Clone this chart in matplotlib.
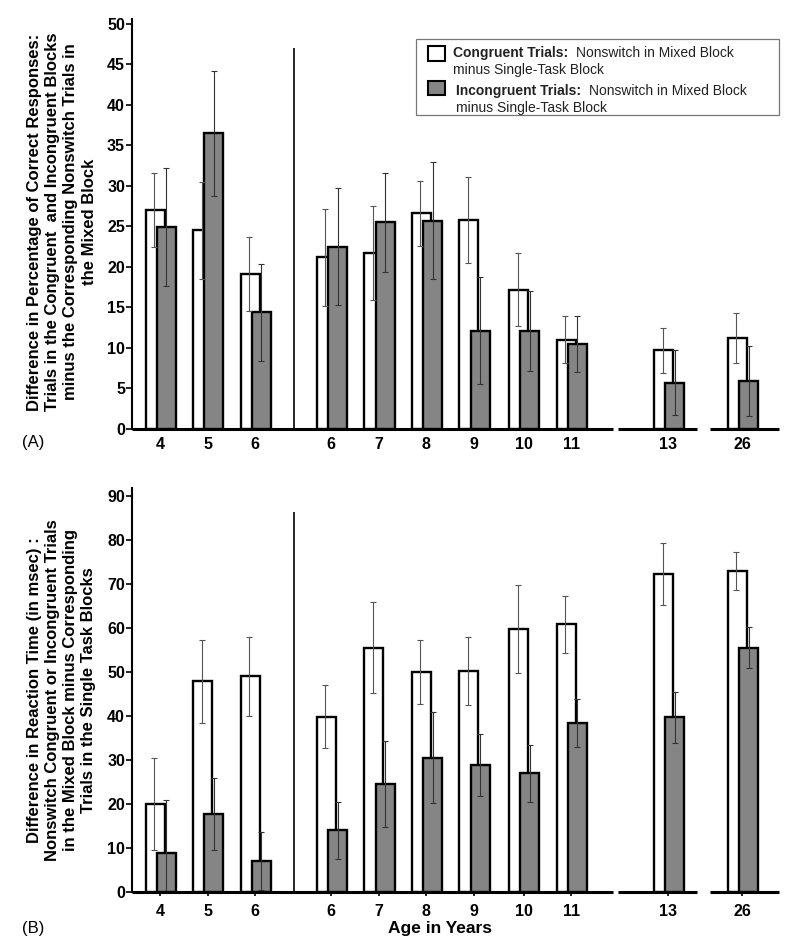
import numpy as np
import matplotlib
matplotlib.use("Agg")
import matplotlib.pyplot as plt
from matplotlib.patches import Rectangle

plt.rcParams['font.family'] = ['Liberation Sans', 'DejaVu Sans']

# data
ages = ['4', '5', '6', '6', '7', '8', '9', '10', '11', '13', '26']
acc_cong = [27.0, 24.5, 19.1, 21.2, 21.7, 26.6, 25.8, 17.2, 11.0, 9.7, 11.2]
acc_cong_err = [4.6, 6.0, 4.6, 6.0, 5.8, 4.0, 5.3, 4.5, 2.9, 2.8, 3.1]
acc_incong = [24.9, 36.5, 14.4, 22.5, 25.5, 25.7, 12.1, 12.1, 10.5, 5.7, 5.9]
acc_incong_err = [7.3, 7.7, 6.0, 7.2, 6.1, 7.2, 6.6, 4.9, 3.5, 4.0, 4.3]
rt_cong = [19.9, 47.8, 49.0, 39.8, 55.5, 50.0, 50.2, 59.8, 60.8, 72.2, 72.9]
rt_cong_err = [10.5, 9.5, 9.0, 7.2, 10.3, 7.3, 7.8, 10.0, 6.5, 7.0, 4.4]
rt_incong = [8.9, 17.6, 7.0, 14.0, 24.4, 30.5, 28.8, 26.9, 38.4, 39.6, 55.5]
rt_incong_err = [11.9, 8.2, 6.6, 6.5, 9.8, 10.3, 7.0, 6.4, 5.4, 5.7, 4.7]

# layout
xpos = np.array([0, 1, 2, 3.6, 4.6, 5.6, 6.6, 7.65, 8.65, 10.7, 12.25])
bw = 0.4
gray = '#858585'

fig = plt.figure(figsize=(8, 9.47), dpi=100)
axA = fig.add_axes([0.165, 0.547, 0.809, 0.433])
axB = fig.add_axes([0.165, 0.0584, 0.809, 0.426])


def draw_panel(ax, cong, cong_err, incong, incong_err, ymax, step, sep_top, xticks):
    ax.bar(xpos - 0.1, cong, bw, color='white', edgecolor='black', linewidth=1.7, zorder=2)
    ax.bar(xpos + 0.135, incong, bw, color=gray, edgecolor='black', linewidth=1.7, zorder=3)
    ax.errorbar(xpos - 0.12, cong, yerr=cong_err, fmt='none', ecolor='#555555',
                elinewidth=0.8, capsize=2.5, capthick=0.8, zorder=4)
    ax.errorbar(xpos + 0.135, incong, yerr=incong_err, fmt='none', ecolor='#333333',
                elinewidth=0.8, capsize=2.5, capthick=0.8, zorder=4)
    ax.vlines(2.82, 0, sep_top, color='black', linewidth=1.2)
    ax.set_xlim(-0.59, 13.03)
    ax.set_ylim(0, ymax)
    ax.set_yticks(np.arange(0, ymax, step))
    for s in ['top', 'right', 'bottom']:
        ax.spines[s].set_visible(False)
    ax.spines['left'].set_linewidth(1.5)
    # broken x axis
    for a, b in [(-0.59, 9.54), (9.64, 11.3), (11.58, 13.03)]:
        ax.plot([a, b], [0, 0], color='black', linewidth=2.2, clip_on=False, zorder=5,
                solid_capstyle='butt')
    ax.set_xticks(xpos)
    ax.set_xticklabels(ages)
    ax.tick_params(axis='x', length=3 if xticks else 0, width=1.2, pad=6)
    ax.tick_params(axis='y', length=4, width=1.2, pad=1)
    for lab in ax.get_xticklabels() + ax.get_yticklabels():
        lab.set_fontweight('bold')
        lab.set_fontsize(11.5)


draw_panel(axA, acc_cong, acc_cong_err, acc_incong, acc_incong_err, 50.6, 5, 47, False)
draw_panel(axB, rt_cong, rt_cong_err, rt_incong, rt_incong_err, 91.7, 10, 86.4, True)

# y labels
fig.text(62 / 800, 1 - 222 / 947,
         'Difference in Percentage of Correct Responses:\n'
         'Trials in the Congruent  and Incongruent Blocks\n'
         'minus the Corresponding Nonswitch Trials in\n'
         'the Mixed Block',
         rotation=90, ha='center', va='center', multialignment='center',
         fontsize=12, fontweight='bold', linespacing=1.25)
fig.text(62 / 800, 1 - 690 / 947,
         'Difference in Reaction Time (in msec) :\n'
         'Nonswitch Congruent or Incongruent Trials\n'
         'in the Mixed Block minus Corresponding\n'
         'Trials in the Single Task Blocks',
         rotation=90, ha='center', va='center', multialignment='center',
         fontsize=12, fontweight='bold', linespacing=1.25)

fig.text(33 / 800, 1 - 443 / 947, '(A)', ha='center', va='center', fontsize=12)
fig.text(33 / 800, 1 - 928 / 947, '(B)', ha='center', va='center', fontsize=12)
fig.text(440 / 800, 1 - 928 / 947, 'Age in Years', ha='center', va='center',
         fontsize=12.5, fontweight='bold')

# legend box
W, H = 800, 947
fig.patches.append(Rectangle((416 / W, 1 - 115 / H), (779 - 416) / W, (115 - 39) / H,
                             transform=fig.transFigure, facecolor='white',
                             edgecolor='#777777', linewidth=0.9))
fig.patches.append(Rectangle((428 / W, 1 - 61 / H), 17 / W, 15 / H,
                             transform=fig.transFigure, facecolor='white',
                             edgecolor='black', linewidth=1.5))
fig.patches.append(Rectangle((428 / W, 1 - 95 / H), 17 / W, 14 / H,
                             transform=fig.transFigure, facecolor=gray,
                             edgecolor='black', linewidth=1.5))

entries = [('Congruent Trials:', 453, 57), ('Incongruent Trials:', 456, 95)]
for head, x0, y0 in entries:
    t = fig.text(x0 / W, 1 - y0 / H, head, fontsize=10, fontweight='bold',
                 va='baseline', color='#222222')
    fig.canvas.draw()
    bb = t.get_window_extent()
    fig.text(bb.x1 / W + 8 / W, 1 - y0 / H, 'Nonswitch in Mixed Block', fontsize=10,
             va='baseline', color='#222222')
    fig.text(x0 / W, 1 - (y0 + 17) / H, 'minus Single-Task Block', fontsize=10,
             va='baseline', color='#222222')

fig.savefig('out.png', dpi=100)
